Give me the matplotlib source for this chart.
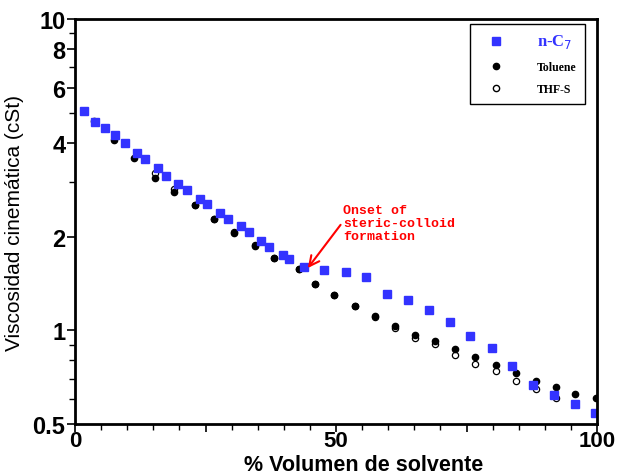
import matplotlib
matplotlib.use("Agg")
import matplotlib.pyplot as plt
from matplotlib.ticker import FixedLocator, NullFormatter
from matplotlib.lines import Line2D

# % volumen de solvente / viscosidad (cSt)
x_c7 = [1.8, 3.8, 5.7, 7.7, 9.6, 11.9, 13.5, 15.8, 17.5, 19.7, 21.5, 23.9,
        25.3, 27.8, 29.3, 31.7, 33.3, 35.7, 37.2, 39.8, 40.9, 43.8, 47.7,
        51.9, 55.8, 59.7, 63.7, 67.8, 71.8, 75.7, 79.8, 83.8, 87.7, 91.7,
        95.8, 99.7]
v_c7 = [5.05, 4.68, 4.46, 4.25, 4.01, 3.72, 3.55, 3.31, 3.13, 2.96, 2.82, 2.64,
        2.54, 2.38, 2.27, 2.16, 2.07, 1.93, 1.85, 1.75, 1.70, 1.60, 1.565,
        1.54, 1.48, 1.31, 1.25, 1.16, 1.06, 0.959, 0.877, 0.770, 0.669, 0.618,
        0.581, 0.541]

x_tol = [3.7, 7.4, 11.3, 15.3, 19.0, 22.9, 26.6, 30.5, 34.5, 38.2, 43.0, 46.0,
         49.6, 53.6, 57.5, 61.2, 65.2, 69.0, 72.7, 76.7, 80.7, 84.4, 88.3, 92.1,
         95.8, 99.8]
v_tol = [4.69, 4.08, 3.58, 3.09, 2.78, 2.52, 2.28, 2.06, 1.87, 1.71, 1.57, 1.41,
         1.30, 1.20, 1.115, 1.035, 0.969, 0.925, 0.869, 0.821, 0.773, 0.729, 0.689,
         0.657, 0.625, 0.607]

x_thf = [15.3, 19.0, 22.9, 26.6, 30.5, 34.5, 38.2, 43.0, 46.0, 49.6, 53.6, 57.5,
         61.2, 65.2, 69.0, 72.7, 76.7, 80.7, 84.4, 88.3, 92.1]
v_thf = [3.20, 2.85, 2.53, 2.28, 2.07, 1.88, 1.71, 1.57, 1.41, 1.30, 1.20, 1.10,
         1.02, 0.947, 0.902, 0.831, 0.777, 0.740, 0.688, 0.649, 0.608]

y_major = [0.5, 1, 2, 4, 6, 8, 10]
y_labels = ["0.5", "1", "2", "4", "6", "8", "10"]
y_minor = [0.6, 0.7, 0.8, 0.9, 3, 5, 7, 9]

azul = "#3333ff"

fig = plt.figure(figsize=(6.18, 4.77), dpi=100)
ax = fig.add_axes([0.1214, 0.109, 0.8447, 0.849])

ax.plot(x_thf, v_thf, "o", ms=4.5, mfc="white", mec="black", mew=0.9, ls="none")
ax.plot(x_tol, v_tol, "o", ms=4.5, mfc="black", mec="black", ls="none")
ax.plot(x_c7, v_c7, "s", ms=5.2, mfc=azul, mec=azul, ls="none")

ax.set_yscale("log")
ax.set_xlim(0, 100)
ax.set_ylim(0.5, 10)

ax.yaxis.set_major_locator(FixedLocator(y_major))
ax.set_yticklabels(y_labels)
ax.yaxis.set_minor_locator(FixedLocator(y_minor))
ax.yaxis.set_minor_formatter(NullFormatter())
ax.set_xticks([0, 25, 50, 75, 100])
ax.set_xticklabels(["0", "", "50", "", "100"])
ax.xaxis.set_minor_locator(FixedLocator(range(5, 100, 5)))

for s in ax.spines.values():
    s.set_linewidth(2)
ax.tick_params(which="major", length=6, width=1.2, direction="out", pad=1)
ax.tick_params(axis="x", which="major", pad=-2)
ax.tick_params(which="minor", length=4, width=1, direction="out")
for lab in ax.get_yticklabels():
    lab.set_fontfamily("Liberation Sans")
    lab.set_fontweight("bold")
    lab.set_fontsize(17)
for lab in ax.get_xticklabels():
    lab.set_fontfamily("Liberation Sans")
    lab.set_fontweight("bold")
    lab.set_fontsize(16)

ax.set_xlabel("% Volumen de solvente", fontfamily="Liberation Sans",
              fontweight="bold", fontsize=15.5, va="center")
ax.xaxis.set_label_coords(0.553, -0.101)
ax.set_ylabel("Viscosidad cinemática (cSt)", fontfamily="Liberation Sans",
              fontsize=15, labelpad=6)

ax.annotate("Onset of\nsteric-colloid\nformation", xy=(44.6, 1.585),
            xytext=(51.4, 2.55), color="red", fontfamily="Liberation Mono",
            fontweight="bold", fontsize=9.5, va="top", ha="left",
            linespacing=1.15,
            arrowprops=dict(arrowstyle="->", color="red", lw=1.5,
                            shrinkA=0, shrinkB=0, mutation_scale=18,
                            relpos=(0, 0.55)))

handles = [
    Line2D([], [], marker="s", ls="none", ms=5.2, mfc=azul, mec=azul),
    Line2D([], [], marker="o", ls="none", ms=4.5, mfc="black", mec="black"),
    Line2D([], [], marker="o", ls="none", ms=4.5, mfc="white", mec="black"),
]
leg = ax.legend(handles, ["n-C$_7$", "Toluene", "THF-S"], loc="upper right",
                bbox_to_anchor=(0.977, 0.988), borderaxespad=0, fancybox=False,
                edgecolor="black", framealpha=1, handletextpad=2.0,
                labelspacing=0.9, borderpad=0.7, handlelength=3.0,
                prop={"family": "Liberation Serif", "weight": "bold", "size": 8.5})
leg.get_frame().set_linewidth(1)
t0 = leg.get_texts()[0]
t0.set_color(azul)
t0.set_fontsize(12)

fig.savefig("out.png", dpi=100)
